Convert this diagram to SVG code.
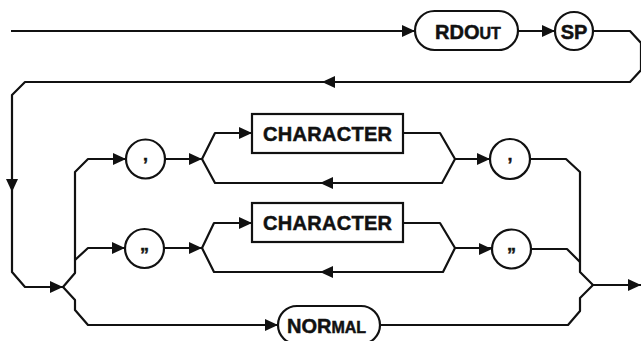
<svg xmlns="http://www.w3.org/2000/svg" width="641" height="341" viewBox="0 0 641 341">
<style>
.ln{fill:none;stroke:#111;stroke-width:2.2;stroke-linejoin:round}
.nd{fill:#fff;stroke:#111;stroke-width:2.2}
.t{font-family:"Liberation Sans",Arial,sans-serif;font-weight:bold;fill:#111;stroke:#111;stroke-width:0.5}
.ah{fill:#111}
</style>
<defs>
<path id="ah" d="M0,0 L-13,-6 L-13,6 Z"/>
</defs>
<rect width="641" height="341" fill="#fff"/>
<g id="connectors">
<path class="ln" d="M11,31 H415"/>
<path class="ln" d="M518,31 H555"/>
<path class="ln" d="M593,31 H630 L641,43 V70 L630,82 H25 L12,95 V272 L25,287 H63"/>
<path class="ln" d="M63,287 L75,273 V172 L88,159 H126"/>
<path class="ln" d="M75,260 L88,248 H126"/>
<path class="ln" d="M63,287 L75,300 V310 L88,325 H278"/>
<path class="ln" d="M165,159 H202"/>
<path class="ln" d="M202,159 L215,133 H252"/>
<path class="ln" d="M202,159 L215,183 H442 L455,159 L440,133 H403"/>
<path class="ln" d="M455,159 H490"/>
<path class="ln" d="M164,248 H202"/>
<path class="ln" d="M202,248 L214,223 H252"/>
<path class="ln" d="M202,248 L214,272 H443 L455,248 L440,223 H403"/>
<path class="ln" d="M455,248 H492"/>
<path class="ln" d="M530,159 H566 L580,172 V272 L593,285 H641"/>
<path class="ln" d="M531,249 H567 L580,262"/>
<path class="ln" d="M380,325 H568 L580,311 V298 L593,285"/>
<use href="#ah" class="ah" transform="translate(415,31)"/>
<use href="#ah" class="ah" transform="translate(555,31)"/>
<use href="#ah" class="ah" transform="translate(322,82) rotate(180)"/>
<use href="#ah" class="ah" transform="translate(12,192) rotate(90)"/>
<use href="#ah" class="ah" transform="translate(63,287)"/>
<use href="#ah" class="ah" transform="translate(126,159)"/>
<use href="#ah" class="ah" transform="translate(202,159)"/>
<use href="#ah" class="ah" transform="translate(252,133)"/>
<use href="#ah" class="ah" transform="translate(320,183) rotate(180)"/>
<use href="#ah" class="ah" transform="translate(490,159)"/>
<use href="#ah" class="ah" transform="translate(125,248)"/>
<use href="#ah" class="ah" transform="translate(202,248)"/>
<use href="#ah" class="ah" transform="translate(252,223)"/>
<use href="#ah" class="ah" transform="translate(320,272) rotate(180)"/>
<use href="#ah" class="ah" transform="translate(492,249)"/>
<use href="#ah" class="ah" transform="translate(278,325)"/>
<use href="#ah" class="ah" transform="translate(641,285)"/>
</g>
<g id="rdout">
<rect class="nd" x="415" y="11" width="103" height="39" rx="19.5"/>
<text class="t" x="435" y="38.5"><tspan font-size="20">RDO</tspan><tspan font-size="16">UT</tspan></text>
</g>
<g id="sp">
<circle class="nd" cx="574" cy="31" r="19"/>
<text class="t" x="574" y="38.5" font-size="20" text-anchor="middle">SP</text>
</g>
<g id="quote1">
<circle class="nd" cx="145.5" cy="159" r="19.5"/>
<text class="t" x="145.5" y="171" font-size="18" text-anchor="middle">’</text>
</g>
<g id="char1">
<rect class="nd" x="252" y="114" width="151" height="39"/>
<text class="t" x="327.5" y="141" font-size="20" text-anchor="middle" textLength="129" lengthAdjust="spacing">CHARACTER</text>
</g>
<g id="quote2">
<circle class="nd" cx="510" cy="159" r="20"/>
<text class="t" x="510" y="171" font-size="18" text-anchor="middle">’</text>
</g>
<g id="dquote1">
<circle class="nd" cx="144.5" cy="248.5" r="19.5"/>
<text class="t" x="144.5" y="260.5" font-size="18" text-anchor="middle">”</text>
</g>
<g id="char2">
<rect class="nd" x="252" y="203" width="151" height="39"/>
<text class="t" x="327.5" y="230" font-size="20" text-anchor="middle" textLength="129" lengthAdjust="spacing">CHARACTER</text>
</g>
<g id="dquote2">
<circle class="nd" cx="511.5" cy="249" r="19.5"/>
<text class="t" x="511.5" y="261" font-size="18" text-anchor="middle">”</text>
</g>
<g id="normal">
<rect class="nd" x="278" y="306" width="102" height="38" rx="19"/>
<text class="t" x="287" y="332.5"><tspan font-size="20">NOR</tspan><tspan font-size="16">MAL</tspan></text>
</g>
</svg>
